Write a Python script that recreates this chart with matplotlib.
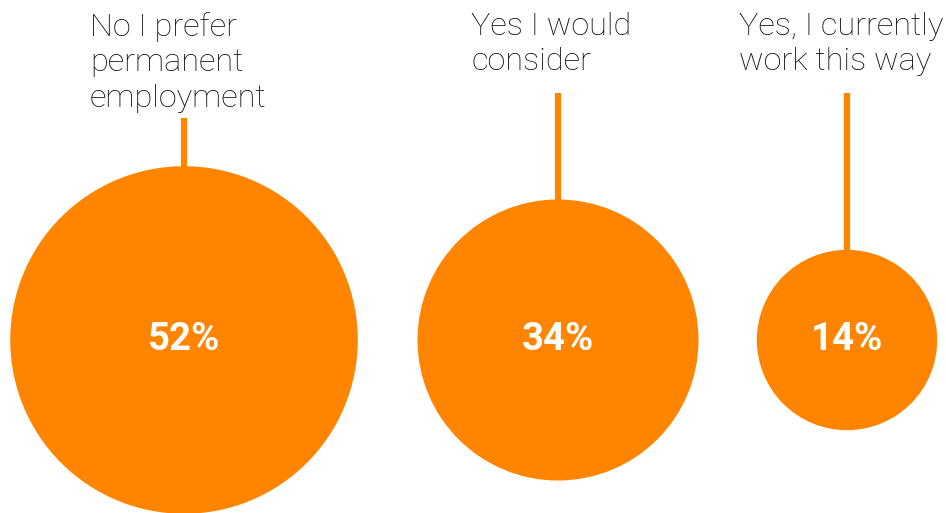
import numpy as np
import matplotlib.pyplot as plt
from matplotlib.patches import Circle

labels = ["No I prefer\npermanent\nemployment", "Yes I would\nconsider", "Yes, I currently\nwork this way"]
values = [52, 34, 14]

ORANGE = "#FF8500"
W, H = 946, 513
centers_x = [184, 558, 847]
center_y = 340
label_x = [90, 471, 739]
stick_top = [118, 93, 93]
px_per_sqrt = 24.1

fig = plt.figure(figsize=(W / 100, H / 100), dpi=100)
ax = fig.add_axes([0, 0, 1, 1])
ax.set_xlim(0, W)
ax.set_ylim(H, 0)
ax.set_aspect("equal")
ax.axis("off")

for i, v in enumerate(values):
	r = px_per_sqrt * np.sqrt(v)
	cx = centers_x[i]
	ax.add_patch(Circle((cx, center_y), r, color=ORANGE, lw=0))
	ax.plot([cx, cx], [stick_top[i], center_y - r + 2], color=ORANGE, lw=4.5, solid_capstyle="butt")
	ax.text(cx, center_y, f"{v}%", color="white", fontsize=27.5, fontweight="bold",
			family="Roboto", ha="center", va="center")
	ax.text(label_x[i], 12, labels[i], color="#111111", fontsize=23.4, fontweight="light",
			family="Roboto", ha="left", va="top", linespacing=1.28)

fig.savefig("out.png", dpi=100)
